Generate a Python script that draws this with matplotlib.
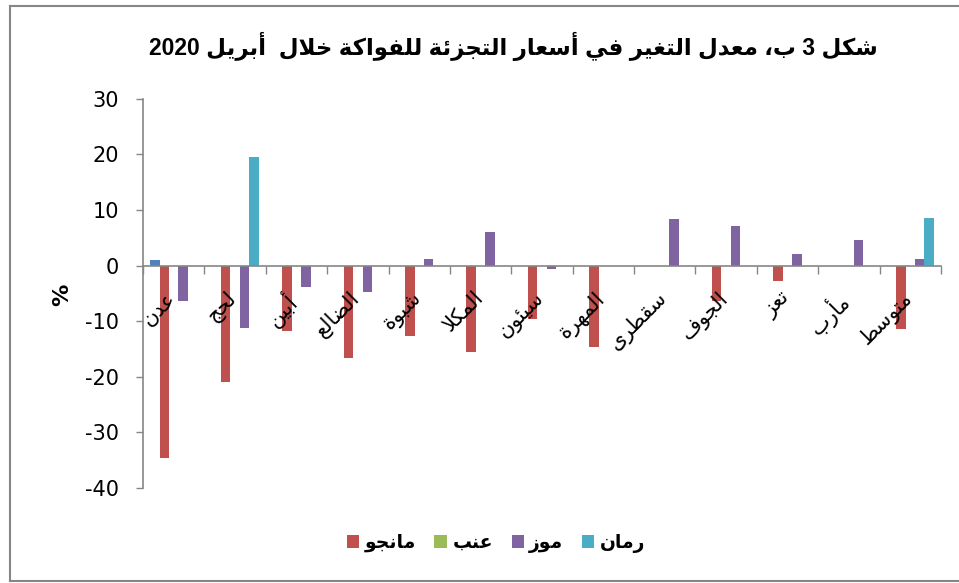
import numpy as np
import matplotlib
matplotlib.use("Agg")
import matplotlib.pyplot as plt
from matplotlib.patches import Patch
from matplotlib.lines import Line2D

# chart data
title = "شكل 3 ب، معدل التغير في أسعار التجزئة للفواكة خلال  أبريل 2020"
categories = ["عدن", "لحج", "أبين", "الضالع", "شبوة", "المكلا", "سيئون",
              "المهرة", "سقطرى", "الجوف", "تعز", "مأرب", "متوسط"]
series_names = ["", "مانجو", "عنب", "موز", "رمان"]
blue_vals = [1.0, 0, 0, 0, 0, 0, 0, 0, 0, 0, 0, 0, 0]
mango = [-34.6, -20.9, -11.7, -16.7, -12.7, -15.6, -9.6, -14.7, 0, -6.4, -2.7, 0, -11.4]
grape = [0, 0, 0, 0, 0, 0, 0, 0, 0, 0, 0, 0, 0]
banana = [-6.3, -11.2, -3.9, -4.8, 1.1, 6.0, -0.6, 0, 8.3, 7.1, 2.1, 4.6, 1.1]
pomegranate = [0, 19.5, 0, 0, 0, 0, 0, 0, 0, 0, 0, 0, 8.5]
yticks = [-40, -30, -20, -10, 0, 10, 20, 30]

colors = ["#4F81BD", "#C0504D", "#9BBB59", "#8064A2", "#4BACC6"]

# --- minimal arabic shaping (matplotlib has no bidi / shaping) ---
_table = [("ء", 0xFE80, 1), ("آ", 0xFE81, 2), ("أ", 0xFE83, 2), ("ؤ", 0xFE85, 2),
          ("إ", 0xFE87, 2), ("ئ", 0xFE89, 4), ("ا", 0xFE8D, 2), ("ب", 0xFE8F, 4),
          ("ة", 0xFE93, 2), ("ت", 0xFE95, 4), ("ث", 0xFE99, 4), ("ج", 0xFE9D, 4),
          ("ح", 0xFEA1, 4), ("خ", 0xFEA5, 4), ("د", 0xFEA9, 2), ("ذ", 0xFEAB, 2),
          ("ر", 0xFEAD, 2), ("ز", 0xFEAF, 2), ("س", 0xFEB1, 4), ("ش", 0xFEB5, 4),
          ("ص", 0xFEB9, 4), ("ض", 0xFEBD, 4), ("ط", 0xFEC1, 4), ("ظ", 0xFEC5, 4),
          ("ع", 0xFEC9, 4), ("غ", 0xFECD, 4), ("ف", 0xFED1, 4), ("ق", 0xFED5, 4),
          ("ك", 0xFED9, 4), ("ل", 0xFEDD, 4), ("م", 0xFEE1, 4), ("ن", 0xFEE5, 4),
          ("ه", 0xFEE9, 4), ("و", 0xFEED, 2), ("ى", 0xFEEF, 2), ("ي", 0xFEF1, 4)]
FORMS = {c: (b, n) for c, b, n in _table}
LAMALEF = {"آ": 0xFEF5, "أ": 0xFEF7, "إ": 0xFEF9, "ا": 0xFEFB}


def shape_word(word):
    chars = []
    i = 0
    while i < len(word):
        if word[i] == "ل" and i + 1 < len(word) and word[i + 1] in LAMALEF:
            chars.append(("LA", word[i + 1]))
            i += 2
        else:
            chars.append(word[i])
            i += 1

    def joins_prev(c):
        return isinstance(c, tuple) or (c in FORMS and FORMS[c][1] >= 2)

    def joins_next(c):
        return (not isinstance(c, tuple)) and c in FORMS and FORMS[c][1] == 4

    out = []
    for k, c in enumerate(chars):
        p = chars[k - 1] if k > 0 else None
        n = chars[k + 1] if k + 1 < len(chars) else None
        jp = p is not None and joins_next(p) and joins_prev(c)
        jn = n is not None and joins_next(c) and joins_prev(n)
        if isinstance(c, tuple):
            out.append(chr(LAMALEF[c[1]] + (1 if jp else 0)))
        elif c in FORMS:
            base, cnt = FORMS[c]
            if cnt == 4:
                idx = 3 if (jp and jn) else 1 if jp else 2 if jn else 0
            elif cnt == 2:
                idx = 1 if jp else 0
            else:
                idx = 0
            out.append(chr(base + idx))
        else:
            out.append(c)
    return "".join(reversed(out))


def ar(text):
    tokens = text.split(" ")
    vis = []
    for t in tokens:
        if t.isascii():
            vis.append(t)
        else:
            vis.append(shape_word(t))
    return " ".join(reversed(vis))


plt.rcParams["font.family"] = ["DejaVu Sans"]
plt.rcParams["axes.unicode_minus"] = False

fig = plt.figure(figsize=(9.59, 5.83), dpi=100)
ax = fig.add_axes([143 / 959, 1 - 488 / 583, (941 - 143) / 959, (488 - 98.7) / 583])

x = np.arange(len(categories))
w = 1 / 6.5
all_series = [blue_vals, mango, grape, banana, pomegranate]
for k, vals in enumerate(all_series):
    ax.bar(x + (k - 2) * w, vals, w, color=colors[k], edgecolor="none", zorder=2)

ax.set_xlim(-0.5, len(categories) - 0.5)
ax.set_ylim(-40, 30)
ax.set_yticks(yticks)
ax.tick_params(axis="y", length=5, width=1, color="#868686", pad=12.5, labelsize=15)
ax.spines["left"].set_color("#868686")
ax.spines["left"].set_linewidth(1.2)
ax.spines["bottom"].set_position(("data", 0))
ax.spines["bottom"].set_color("#868686")
ax.spines["bottom"].set_linewidth(1.2)
ax.spines["top"].set_visible(False)
ax.spines["right"].set_visible(False)
ax.set_xticks(np.arange(len(categories) + 1) - 0.5)
ax.set_xticklabels([])
ax.tick_params(axis="x", direction="out", length=6, width=1, color="#868686")

for i, c in enumerate(categories):
    ax.text(i + 0.1, -4.0, ar(c), rotation=45, ha="right", va="top", fontsize=15, zorder=3)

fig.text(62 / 959, 1 - 295 / 583, "%", rotation=90, ha="center", va="center",
         fontsize=16, fontweight="bold")

fig.text(513 / 959, 1 - 46 / 583, ar(title), ha="center", va="center",
         fontsize=16.5, fontweight="bold", family=["Liberation Sans", "DejaVu Sans"])

handles = [Patch(facecolor=colors[k], edgecolor="none") for k in range(1, 5)]
labels = [ar(series_names[k]) for k in range(1, 5)]
fig.legend(handles, labels, loc="center", bbox_to_anchor=(496 / 959, 1 - 543 / 583),
           ncol=4, frameon=False, handlelength=0.65, handleheight=0.65,
           handletextpad=0.3, columnspacing=1.0,
           prop={"weight": "bold", "size": 13.5})

# outer chart frame
fc = "#868686"
fig.add_artist(Line2D([10 / 959, 10 / 959], [1 - 581 / 583, 1 - 6 / 583], color=fc, lw=1.5))
fig.add_artist(Line2D([10 / 959, 1], [1 - 6 / 583, 1 - 6 / 583], color=fc, lw=1.5))
fig.add_artist(Line2D([10 / 959, 1], [1 - 581 / 583, 1 - 581 / 583], color=fc, lw=1.5))

fig.savefig("out.png", dpi=100)
